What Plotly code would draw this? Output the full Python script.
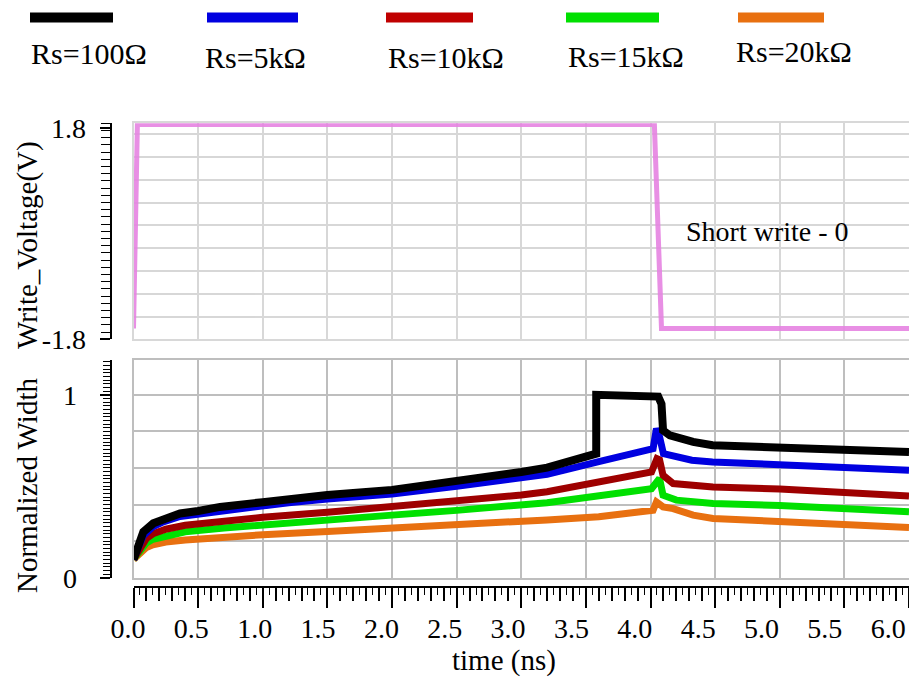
import plotly.graph_objects as go

# ---------------- data ----------------
T_PULSE = [0.0, 0.03, 4.03, 4.085, 6.0]
V_PULSE = [-1.6, 1.8, 1.8, -1.6, -1.6]

T_100 = [0, 0.03, 0.076, 0.153, 0.23, 0.36, 0.5, 0.67, 1.0, 1.2, 1.5, 2.0, 2.5, 3.0, 3.2,
         3.58, 3.58, 4.03, 4.06, 4.085, 4.097, 4.15, 4.33, 4.48, 5.0, 6.0]
W_100 = [0.1, 0.16, 0.25, 0.297, 0.318, 0.351, 0.365, 0.387, 0.413, 0.433, 0.452, 0.48, 0.524, 0.578, 0.602,
         0.678, 1.0, 1.0, 0.99, 0.95, 0.805, 0.778, 0.742, 0.724, 0.715, 0.687]

T_5K = [0, 0.03, 0.076, 0.153, 0.23, 0.36, 0.5, 0.67, 1.0, 1.2, 1.5, 2.0, 2.5, 3.0, 3.2,
        3.6, 4.02, 4.046, 4.07, 4.1, 4.32, 4.48, 5.0, 6.0]
W_5K = [0.1, 0.15, 0.23, 0.28, 0.305, 0.335, 0.348, 0.37, 0.395, 0.41, 0.43, 0.458, 0.5, 0.551, 0.565,
        0.635, 0.705, 0.815, 0.77, 0.678, 0.642, 0.633, 0.62, 0.587]

T_10K = [0, 0.03, 0.07, 0.1, 0.15, 0.25, 0.4, 0.7, 1.0, 1.5, 2.0, 2.5, 3.0, 3.2,
         4.008, 4.05, 4.07, 4.097, 4.175, 4.484, 5.0, 6.0]
W_10K = [0.1, 0.14, 0.19, 0.215, 0.24, 0.265, 0.287, 0.31, 0.33, 0.358, 0.388, 0.418, 0.452, 0.47,
         0.578, 0.651, 0.645, 0.56, 0.515, 0.496, 0.485, 0.447]

T_15K = [0, 0.03, 0.07, 0.1, 0.15, 0.25, 0.4, 0.7, 1.0, 1.5, 2.0, 2.5, 3.0, 3.2,
         4.008, 4.05, 4.07, 4.097, 4.2, 4.484, 5.0, 6.0]
W_15K = [0.1, 0.13, 0.17, 0.19, 0.21, 0.23, 0.251, 0.272, 0.29, 0.315, 0.342, 0.368, 0.396, 0.41,
         0.487, 0.53, 0.542, 0.451, 0.424, 0.406, 0.395, 0.36]

T_20K = [0, 0.03, 0.07, 0.1, 0.15, 0.25, 0.4, 0.7, 1.0, 1.5, 2.0, 2.5, 3.0, 3.2, 3.6,
         4.02, 4.046, 4.07, 4.097, 4.175, 4.33, 4.484, 5.0, 6.0]
W_20K = [0.1, 0.12, 0.15, 0.165, 0.18, 0.195, 0.206, 0.222, 0.235, 0.252, 0.269, 0.286, 0.305, 0.316, 0.333,
         0.369, 0.414, 0.395, 0.387, 0.378, 0.342, 0.324, 0.31, 0.275]

SERIES_NAMES = ["Rs=100Ω", "Rs=5kΩ", "Rs=10kΩ", "Rs=15kΩ", "Rs=20kΩ"]

X_LABEL_VALUES = [0.0, 0.5, 1.0, 1.5, 2.0, 2.5, 3.0, 3.5, 4.0, 4.5, 5.0, 5.5, 6.0]
Y_TOP_TICKVALS = [-1.78, 1.74]
Y_TOP_TICKTEXT = ["-1.8", "1.8"]
Y_BOT_TICKVALS = [0, 1]
Y_BOT_TICKTEXT = ["0", "1"]

# ---------------- styles ----------------
W, H = 909, 680
SERIF = "Liberation Serif"
PINK = "#E683E2"
CURVE_COLORS = ["#000000", "#0000E0", "#9E0000", "#00E000", "#E87010"]
LEGEND_COLORS = ["#000000", "#0000E0", "#C00000", "#00E000", "#E87010"]
CURVE_WIDTHS = [8, 7, 7, 7, 7]
GRID_TOP = "#D8D8D8"
GRID_BOT = "#BEBEBE"


def px(x):
    return x / W


def py(y):
    return 1 - y / H


X_DOMAIN = [px(133.5), 1.0]
TOP_DOMAIN = [py(339.3), py(123.3)]
BOT_DOMAIN = [py(577.7), py(360.0)]
TOP_RANGE = [-1.78, 1.82]
BOT_RANGE = [0, 1.19]
X_RANGE = [0, 6.0]

fig = go.Figure()

# top panel: write voltage
fig.add_trace(go.Scatter(x=T_PULSE, y=V_PULSE, mode="lines",
                         line=dict(color=PINK, width=5), opacity=0.9, xaxis="x", yaxis="y",
                         showlegend=False, hoverinfo="skip"))

# bottom panel: normalized width curves (drawn back to front)
series_t = [T_100, T_5K, T_10K, T_15K, T_20K]
series_w = [W_100, W_5K, W_10K, W_15K, W_20K]
for i in reversed(range(5)):
    fig.add_trace(go.Scatter(x=series_t[i], y=series_w[i], mode="lines", name=SERIES_NAMES[i],
                             line=dict(color=CURVE_COLORS[i], width=CURVE_WIDTHS[i]),
                             xaxis="x2", yaxis="y2", showlegend=False))

# dummy traces to instantiate auxiliary axes
for xa, ya in [("x", "y3"), ("x2", "y4"), ("x3", "y2"), ("x4", "y2"), ("x5", "y5")]:
    fig.add_trace(go.Scatter(x=[None], y=[None], xaxis=xa, yaxis=ya, mode="lines",
                             showlegend=False, hoverinfo="skip"))

tickfont = dict(family=SERIF, size=28, color="black")

common_grid = dict(zeroline=False, showticklabels=False, ticks="", fixedrange=True, automargin=False)

lab_lo = (100 - 128) / 126.7
lab_hi = (909 - 128) / 126.7

fig.update_layout(
    template="none",
    width=W, height=H,
    margin=dict(l=0, r=0, t=0, b=0, autoexpand=False),
    paper_bgcolor="white", plot_bgcolor="rgba(0,0,0,0)",
    showlegend=False,
    font=dict(family=SERIF, color="black"),
    xaxis=dict(domain=X_DOMAIN, range=X_RANGE, anchor="y", tick0=0, dtick=0.5,
               showgrid=True, gridcolor=GRID_TOP, gridwidth=1.5,
               showline=True, linecolor=GRID_TOP, linewidth=1.5, mirror=True, **common_grid),
    yaxis=dict(domain=TOP_DOMAIN, range=TOP_RANGE, anchor="x", tick0=-1.78, dtick=0.38,
               showgrid=True, gridcolor=GRID_TOP, gridwidth=1.5,
               showline=True, linecolor=GRID_TOP, linewidth=1.5, mirror=True, **common_grid),
    xaxis2=dict(domain=X_DOMAIN, range=X_RANGE, anchor="y2", tick0=0, dtick=0.5,
                showgrid=True, gridcolor=GRID_BOT, gridwidth=1.5,
                showline=True, linecolor=GRID_BOT, linewidth=1.5, mirror=True, **common_grid),
    yaxis2=dict(domain=BOT_DOMAIN, range=BOT_RANGE, anchor="x2", tick0=0, dtick=0.2,
                showgrid=True, gridcolor=GRID_BOT, gridwidth=1.5,
                showline=True, linecolor=GRID_BOT, linewidth=1.5, mirror=True, **common_grid),
    # tick axis, top panel
    yaxis3=dict(overlaying="y", anchor="free", position=px(110.7), side="left", range=TOP_RANGE,
                showgrid=False, zeroline=False, showline=True, linecolor="black", linewidth=2,
                tickmode="array", tickvals=Y_TOP_TICKVALS, ticktext=Y_TOP_TICKTEXT,
                ticks="outside", ticklen=10, tickwidth=1.5, tickcolor="black",
                minor=dict(tickmode="linear", tick0=-1.78, dtick=0.12, ticks="outside",
                           ticklen=9, tickwidth=1.2, tickcolor="black", showgrid=False),
                tickfont=tickfont, ticklabelstandoff=8, fixedrange=True, automargin=False),
    # tick axis, bottom panel
    yaxis4=dict(overlaying="y2", anchor="free", position=px(110.7), side="left", range=BOT_RANGE,
                showgrid=False, zeroline=False, showline=True, linecolor="black", linewidth=2,
                tickmode="array", tickvals=Y_BOT_TICKVALS, ticktext=Y_BOT_TICKTEXT,
                ticks="outside", ticklen=10, tickwidth=1.5, tickcolor="black",
                minor=dict(tickmode="linear", tick0=0, dtick=0.02, ticks="outside",
                           ticklen=7, tickwidth=1, tickcolor="black", showgrid=False),
                tickfont=tickfont, ticklabelstandoff=17, fixedrange=True, automargin=False),
    # x tick axes (detached below bottom panel)
    xaxis3=dict(overlaying="x2", anchor="free", position=py(586.7), side="bottom", range=X_RANGE,
                showgrid=False, zeroline=False, showline=True, linecolor="black", linewidth=2,
                tick0=0, dtick=0.5, ticks="outside", ticklen=20, tickwidth=2, tickcolor="black",
                minor=dict(tick0=0, dtick=0.1, ticks="outside", ticklen=13, tickwidth=1.5,
                           tickcolor="black", showgrid=False),
                showticklabels=False, fixedrange=True, automargin=False),
    xaxis4=dict(overlaying="x2", anchor="free", position=py(586.7), side="bottom", range=X_RANGE,
                showgrid=False, zeroline=False, showline=False,
                tick0=0, dtick=0.05, ticks="outside", ticklen=7, tickwidth=1, tickcolor="black",
                showticklabels=False, fixedrange=True, automargin=False),
    # x tick labels axis
    xaxis5=dict(domain=[px(100), 1.0], anchor="free", position=py(586.7), side="bottom",
                range=[lab_lo, lab_hi], showgrid=False, zeroline=False, showline=False,
                tickmode="array", tickvals=X_LABEL_VALUES,
                ticktext=[f"{v:.1f}" for v in X_LABEL_VALUES],
                ticks="", tickfont=tickfont, ticklabelstandoff=22, fixedrange=True, automargin=False),
    yaxis5=dict(domain=BOT_DOMAIN, range=[0, 1], anchor="x5", visible=False, fixedrange=True,
                automargin=False),
)

annotations = [
    dict(text="Write_Voltage(V)", x=px(27), y=py(245), xref="paper", yref="paper",
         textangle=-90, showarrow=False, xanchor="center", yanchor="middle",
         font=dict(family=SERIF, size=29, color="black")),
    dict(text="Normalized Width", x=px(27), y=py(486), xref="paper", yref="paper",
         textangle=-90, showarrow=False, xanchor="center", yanchor="middle",
         font=dict(family=SERIF, size=29, color="black")),
    dict(text="time (ns)", x=px(504), y=py(660), xref="paper", yref="paper",
         showarrow=False, xanchor="center", yanchor="middle",
         font=dict(family=SERIF, size=29, color="black")),
    dict(text="Short write - 0", x=px(684), y=py(231), xref="paper", yref="paper",
         showarrow=False, xanchor="left", yanchor="middle",
         font=dict(family=SERIF, size=28, color="black")),
]

# legend (swatch bars above, names below)
LEG_BAR_X = [(30, 113), (207, 298), (386, 473), (566, 659), (738, 824)]
LEG_TEXT_X = [88.5, 255, 446, 626, 794]
LEG_TEXT_Y = [54, 57, 57, 56, 52]
shapes = []
for i in range(5):
    x0, x1 = LEG_BAR_X[i]
    shapes.append(dict(type="line", xref="paper", yref="paper", x0=px(x0), x1=px(x1),
                       y0=py(17.5), y1=py(17.5), line=dict(color=LEGEND_COLORS[i], width=10)))
    annotations.append(dict(text=SERIES_NAMES[i], x=px(LEG_TEXT_X[i]), y=py(LEG_TEXT_Y[i]),
                            xref="paper", yref="paper", showarrow=False,
                            xanchor="center", yanchor="middle",
                            font=dict(family=SERIF, size=30, color="black")))

fig.update_layout(annotations=annotations, shapes=shapes)

fig.write_html("out.html", config={"displayModeBar": False},
               post_script="document.body.style.margin='0';document.body.style.overflow='hidden';")
